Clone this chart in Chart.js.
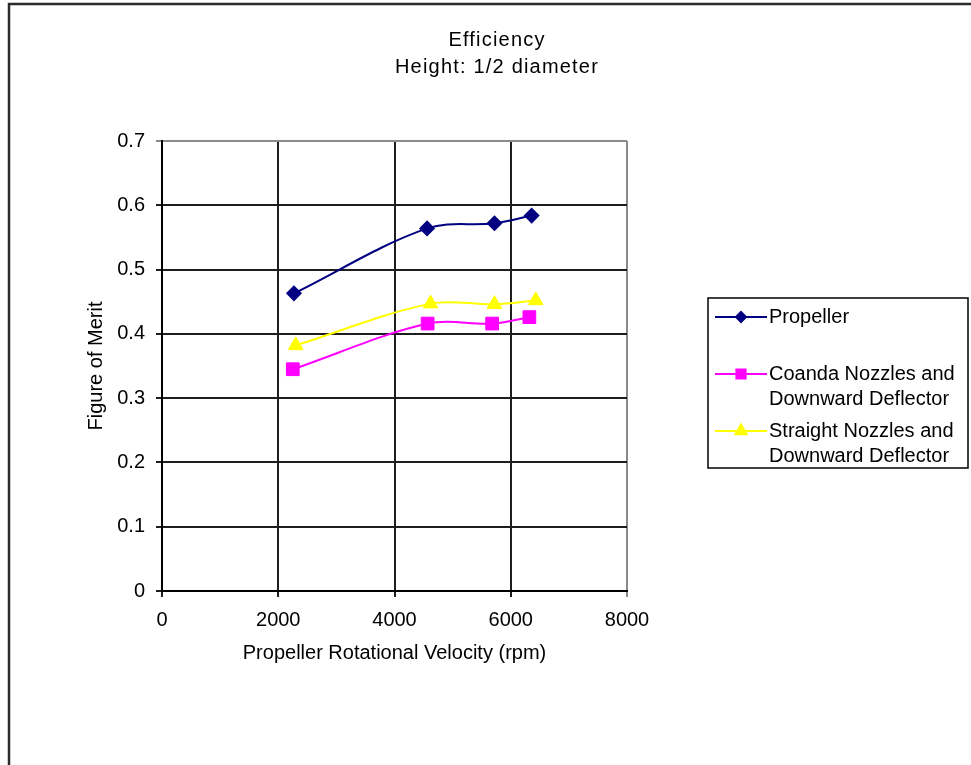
<!DOCTYPE html>
<html>
<head>
<meta charset="utf-8">
<title>Efficiency – Height: 1/2 diameter</title>
<script src="https://cdn.jsdelivr.net/npm/chart.js@4.4.1/dist/chart.umd.min.js"></script>
<style>
  html, body { margin: 0; padding: 0; background: #fff; overflow: hidden; }
  #wrap { position: relative; width: 971px; height: 765px; }
</style>
</head>
<body>
<div id="wrap"><canvas id="chart"></canvas></div>
<script>
// Chart text
const TITLE_LINES = ['Efficiency', 'Height: 1/2 diameter'];
const X_TITLE = 'Propeller Rotational Velocity (rpm)';
const Y_TITLE = 'Figure of Merit';

// Series names (legend lines)
const SERIES_NAMES = [
  ['Propeller'],
  ['Coanda Nozzles and', 'Downward Deflector'],
  ['Straight Nozzles and', 'Downward Deflector']
];

// Measured data: rotational velocity (rpm) vs figure of merit
const propellerRpm = [2270, 4560, 5720, 6360];
const propellerFom = [0.463, 0.564, 0.572, 0.584];

const coandaRpm = [2250, 4570, 5680, 6320];
const coandaFom = [0.345, 0.416, 0.416, 0.426];

const straightRpm = [2300, 4620, 5720, 6430];
const straightFom = [0.382, 0.447, 0.446, 0.452];

// Axis ranges / tick steps
const X_MIN = 0, X_MAX = 8000, X_STEP = 2000;
const Y_MIN = 0, Y_MAX = 0.7, Y_STEP = 0.1;

const toPoints = (xs, ys) => xs.map((x, i) => ({ x: x, y: ys[i] }));

Chart.defaults.font.family = '"Liberation Sans", Arial, sans-serif';
Chart.defaults.font.size = 20;
Chart.defaults.color = '#000';

const GRID_DARK = '#1e1e1e';
const GRID_EDGE = '#8a8a8a';

// Outer frame, title and boxed legend
const decorations = {
  id: 'decorations',
  beforeDraw(chart) {
    const c = chart.ctx;
    c.save();
    c.fillStyle = '#fff';
    c.fillRect(0, 0, chart.width, chart.height);
    c.restore();
  },
  afterDraw(chart) {
    const c = chart.ctx;
    c.save();

    // frame
    c.strokeStyle = '#2b2b2b';
    c.lineWidth = 2.5;
    c.beginPath();
    c.moveTo(9, chart.height + 5);
    c.lineTo(9, 4);
    c.lineTo(chart.width + 5, 4);
    c.stroke();

    // title
    c.fillStyle = '#000';
    c.font = '20px "Liberation Sans", Arial, sans-serif';
    c.textAlign = 'center';
    c.textBaseline = 'middle';
    if ('letterSpacing' in c) c.letterSpacing = '1.2px';
    TITLE_LINES.forEach((t, i) => c.fillText(t, 497, 40 + i * 27));
    if ('letterSpacing' in c) c.letterSpacing = '0px';

    // legend
    const box = { left: 708, top: 298, right: 968, bottom: 468 };
    c.strokeStyle = '#000';
    c.lineWidth = 1.5;
    c.strokeRect(box.left, box.top, box.right - box.left, box.bottom - box.top);
    c.textAlign = 'left';
    chart.data.datasets.forEach((ds, i) => {
      const y0 = box.top + 19 + i * 57;
      c.strokeStyle = ds.borderColor;
      c.lineWidth = 2;
      c.beginPath();
      c.moveTo(715, y0);
      c.lineTo(767, y0);
      c.stroke();
      c.fillStyle = ds.pointBackgroundColor;
      c.strokeStyle = ds.pointBorderColor;
      Chart.helpers.drawPoint(c, {
        pointStyle: ds.pointStyle,
        rotation: 0,
        radius: ds.legendRadius,
        borderWidth: 1
      }, 741, y0);
      c.fillStyle = '#000';
      SERIES_NAMES[i].forEach((line, k) => c.fillText(line, 769, y0 + k * 25));
    });
    c.restore();
  }
};

const edgeColor = (isEdge) => (ctx) => (ctx.tick && isEdge(ctx.tick.value) ? GRID_EDGE : GRID_DARK);

new Chart(document.getElementById('chart'), {
  type: 'scatter',
  data: {
    datasets: [
      {
        label: SERIES_NAMES[0].join(' '),
        data: toPoints(propellerRpm, propellerFom),
        showLine: true,
        tension: 0.35,
        borderColor: '#000080',
        borderWidth: 2,
        pointStyle: 'rectRot',
        pointRadius: 7,
        legendRadius: 5,
        pointBorderWidth: 1.5,
        pointBackgroundColor: '#000080',
        pointBorderColor: '#000080'
      },
      {
        label: SERIES_NAMES[1].join(' '),
        data: toPoints(coandaRpm, coandaFom),
        showLine: true,
        tension: 0.35,
        borderColor: '#ff00ff',
        borderWidth: 2,
        pointStyle: 'rect',
        pointRadius: 9,
        legendRadius: 6.5,
        pointBorderWidth: 1,
        pointBackgroundColor: '#ff00ff',
        pointBorderColor: '#ff00ff'
      },
      {
        label: SERIES_NAMES[2].join(' '),
        data: toPoints(straightRpm, straightFom),
        showLine: true,
        tension: 0.35,
        borderColor: '#ffff00',
        borderWidth: 2,
        pointStyle: 'triangle',
        pointRadius: 8.5,
        legendRadius: 6.5,
        pointBorderWidth: 1,
        pointBackgroundColor: '#ffff00',
        pointBorderColor: '#ffff00'
      }
    ]
  },
  options: {
    responsive: true,
    maintainAspectRatio: false,
    animation: false,
    events: [],
    layout: { padding: { left: 84, right: 344, top: 141, bottom: 94 } },
    plugins: {
      legend: { display: false },
      title: { display: false },
      tooltip: { enabled: false }
    },
    scales: {
      x: {
        type: 'linear',
        min: X_MIN,
        max: X_MAX,
        ticks: {
          stepSize: X_STEP,
          padding: 11,
          color: '#000',
          maxRotation: 0,
          callback: (v) => String(v)
        },
        grid: {
          color: edgeColor(v => v >= X_MAX),
          lineWidth: 2,
          tickLength: 6
        },
        border: { color: '#000', width: 2 },
        title: {
          display: true,
          text: X_TITLE,
          color: '#000',
          font: { size: 20 },
          padding: { top: 0, bottom: 6 }
        },
        afterFit(scale) { scale.height = 80; }
      },
      y: {
        type: 'linear',
        min: Y_MIN,
        max: Y_MAX,
        ticks: { stepSize: Y_STEP, padding: 11, color: '#000' },
        grid: {
          color: edgeColor(v => v >= Y_MAX - 1e-9),
          lineWidth: 2,
          tickLength: 6
        },
        border: { color: '#000', width: 2 },
        title: {
          display: true,
          text: Y_TITLE,
          color: '#000',
          font: { size: 20 },
          padding: { top: 0, bottom: 0 }
        },
        afterFit(scale) { scale.width = 78; }
      }
    }
  },
  plugins: [decorations]
});
</script>
</body>
</html>
